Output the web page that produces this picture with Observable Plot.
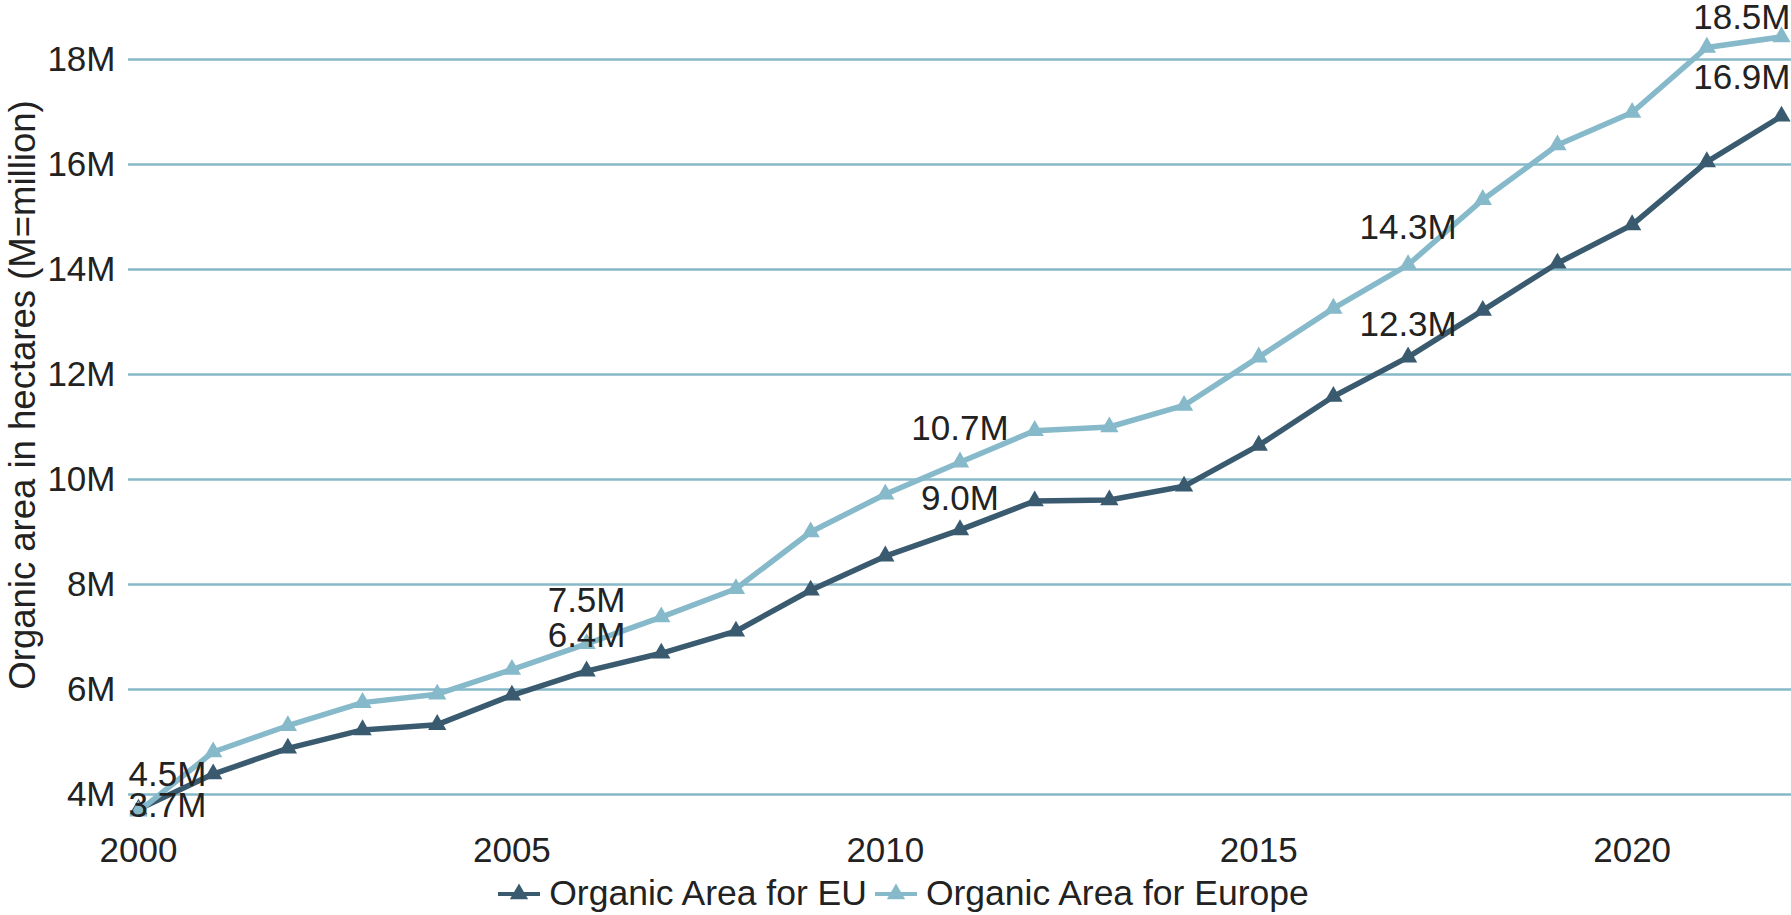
<!DOCTYPE html>
<html>
<head>
<meta charset="utf-8">
<script src="https://cdn.jsdelivr.net/npm/d3@7"></script>
<script src="https://cdn.jsdelivr.net/npm/@observablehq/plot@0.6"></script>
<style>
  html, body { margin: 0; padding: 0; background: #fff; }
  body { font-family: "Liberation Sans", Arial, Helvetica, sans-serif; width: 1791px; overflow: hidden; }
  #legend { display: flex; justify-content: center; align-items: center; height: 42px; font-size: 35.5px; color: #222; padding-left: 16px; }
  .item { display: flex; align-items: center; margin: 0 4px; }
  .item svg { margin-right: 9px; }
</style>
</head>
<body>
<div id="chart"></div>
<div id="legend"></div>
<script>
// ---- data ----
const years = [2000, 2001, 2002, 2003, 2004, 2005, 2006, 2007, 2008, 2009, 2010, 2011,
               2012, 2013, 2014, 2015, 2016, 2017, 2018, 2019, 2020, 2021, 2022];
const euValues = [3.72, 4.39, 4.88, 5.23, 5.33, 5.89, 6.35, 6.69, 7.11, 7.89, 8.54, 9.04,
                  9.59, 9.61, 9.87, 10.65, 11.58, 12.33, 13.22, 14.12, 14.85, 16.05, 16.92];
const europeValues = [3.68, 4.81, 5.31, 5.75, 5.91, 6.38, 6.87, 7.38, 7.92, 9.0, 9.72, 10.33,
                      10.93, 11.0, 11.41, 12.33, 13.26, 14.09, 15.33, 16.37, 16.99, 18.23, 18.43];
const seriesNames = ["Organic Area for EU", "Organic Area for Europe"];
const xTicks = [2000, 2005, 2010, 2015, 2020];
const yTicks = [4, 6, 8, 10, 12, 14, 16, 18];
const yTickSuffix = "M";
const yAxisTitle = "Organic area in hectares (M=million)";
const labelYears  = [2000, 2000, 2006, 2006, 2011, 2011, 2017, 2017, 2022, 2022];
const labelSeries = [0, 1, 0, 1, 0, 1, 0, 1, 0, 1];
const labelTexts  = ["3.7M", "4.5M", "6.4M", "7.5M", "9.0M", "10.7M", "12.3M", "14.3M", "16.9M", "18.5M"];

// ---- styles ----
const colors = ["#3a5b6f", "#86b9ca"];
const gridColor = "#86b8c8";
const textColor = "#222";
const fontSize = 35;
// label nudges (styling only): [dx, dy, anchor]
const nudges = [[-10, -3, "start"], [-10, -37, "start"], [0, -35, "middle"], [0, -43, "middle"],
                [0, -31, "middle"], [0, -33, "middle"], [0, -32, "middle"], [0, -37, "middle"],
                [9, -38, "end"], [9, -19, "end"]];

const seriesValues = [euValues, europeValues];
const rows = [];
seriesNames.forEach((name, s) => years.forEach((yr, i) => rows.push({year: yr, value: seriesValues[s][i], series: name})));
const labels = labelTexts.map((t, i) => {
  const s = labelSeries[i];
  const idx = years.indexOf(labelYears[i]);
  return {year: labelYears[i], value: seriesValues[s][idx], text: t, i};
});

const textMarks = labels.map(l => Plot.text([l], {
  x: "year", y: "value", text: "text",
  dx: nudges[l.i][0], dy: nudges[l.i][1], textAnchor: nudges[l.i][2],
  fill: textColor, fontSize
}));

const chart = Plot.plot({
  width: 1791,
  height: 872,
  marginLeft: 128,
  marginRight: 0,
  marginTop: 59,
  marginBottom: 78,
  style: {fontFamily: '"Liberation Sans", Arial, Helvetica, sans-serif', fontSize: fontSize + "px", color: textColor, background: "#fff"},
  x: {domain: [2000, 2022], insetLeft: 10, insetRight: 10},
  y: {domain: [4, 18]},
  color: {domain: seriesNames, range: colors},
  marks: [
    Plot.ruleY(yTicks, {stroke: gridColor, strokeWidth: 2.6}),
    Plot.axisX({ticks: xTicks, tickFormat: d => String(d), tickSize: 0, tickPadding: 43, label: null, fontSize, fill: textColor}),
    Plot.axisY({ticks: yTicks, tickFormat: d => d + yTickSuffix, tickSize: 0, tickPadding: 13, label: null, fontSize, fill: textColor}),
    Plot.text([yAxisTitle], {frameAnchor: "left", textAnchor: "middle", rotate: -90, dx: -105, dy: -32, fill: textColor, fontSize: 36.5}),
    Plot.line(rows, {x: "year", y: "value", stroke: "series", strokeWidth: 5.5, z: "series"}),
    Plot.dot(rows, {x: "year", y: "value", fill: "series", symbol: "triangle", r: 6.8, stroke: null}),
    ...textMarks
  ]
});
document.getElementById("chart").appendChild(chart);

// legend
const legend = document.getElementById("legend");
seriesNames.forEach((name, s) => {
  const item = document.createElement("div");
  item.className = "item";
  item.innerHTML = `<svg width="42" height="24" viewBox="0 0 42 24">
    <line x1="0" y1="13" x2="42" y2="13" stroke="${colors[s]}" stroke-width="4"/>
    <path d="${d3.symbol(d3.symbolTriangle, Math.PI * 6.8 * 6.8)()}" transform="translate(21,13)" fill="${colors[s]}"/>
  </svg><span>${name}</span>`;
  legend.appendChild(item);
});
</script>
</body>
</html>
